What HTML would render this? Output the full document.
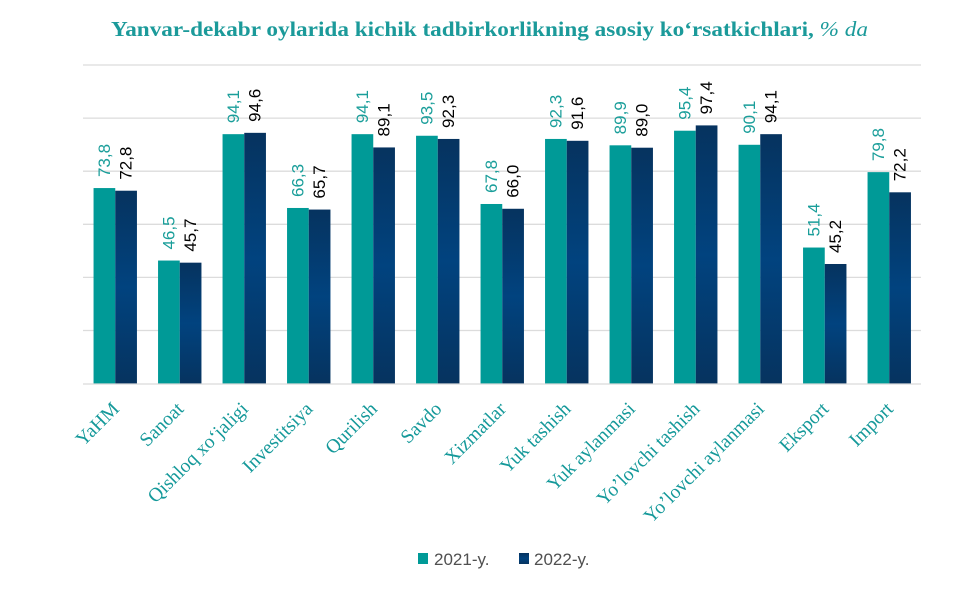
<!DOCTYPE html>
<html><head><meta charset="utf-8"><style>
html,body{margin:0;padding:0;background:#fff;}
svg{display:block;}
</style></head><body>
<svg width="963" height="607" viewBox="0 0 963 607" xmlns="http://www.w3.org/2000/svg">
<defs>
<linearGradient id="nv" x1="0" y1="0" x2="0" y2="1">
<stop offset="0" stop-color="#06335f"/>
<stop offset="0.5" stop-color="#01437f"/>
<stop offset="1" stop-color="#06335f"/>
</linearGradient>
</defs>
<rect width="963" height="607" fill="#fff"/>
<text x="489.5" y="36" text-anchor="middle" textLength="757" lengthAdjust="spacingAndGlyphs" font-family="Liberation Serif, serif" font-size="21" font-weight="bold" fill="#1b9a9a">Yanvar-dekabr oylarida kichik tadbirkorlikning asosiy ko‘rsatkichlari, <tspan font-style="italic" font-weight="normal">% da</tspan></text>
<g stroke="#dcdcdc" stroke-width="1.3">
<line x1="83" y1="65" x2="921" y2="65"/>
<line x1="83" y1="118.1" x2="921" y2="118.1"/>
<line x1="83" y1="171.2" x2="921" y2="171.2"/>
<line x1="83" y1="224.3" x2="921" y2="224.3"/>
<line x1="83" y1="277.4" x2="921" y2="277.4"/>
<line x1="83" y1="330.5" x2="921" y2="330.5"/>
</g>
<g id="bars"></g>
<line x1="83" y1="384" x2="921" y2="384" stroke="#d9d9d9" stroke-width="1.3"/>
<g id="lbls" font-family="Liberation Sans, sans-serif" font-size="17"></g>
<g id="xl" font-family="Liberation Serif, serif" font-size="19.5" fill="#15999a"></g>
<rect x="418" y="553" width="10" height="11" fill="#009a97"/>
<text x="434" y="565" font-family="Liberation Sans, sans-serif" font-size="17" fill="#505050">2021-y.</text>
<rect x="519" y="553" width="10" height="11" fill="url(#nv)"/>
<text x="534" y="565" font-family="Liberation Sans, sans-serif" font-size="17" fill="#505050">2022-y.</text>
<script>
(function(){
var a=[73.8,46.5,94.1,66.3,94.1,93.5,67.8,92.3,89.9,95.4,90.1,51.4,79.8];
var b=[72.8,45.7,94.6,65.7,89.1,92.3,66.0,91.6,89.0,97.4,94.1,45.2,72.2];
var n=["YaHM","Sanoat","Qishloq xo‘jaligi","Investitsiya","Qurilish","Savdo","Xizmatlar","Yuk tashish","Yuk aylanmasi","Yo’lovchi tashish","Yo’lovchi aylanmasi","Eksport","Import"];
var NS="http://www.w3.org/2000/svg";
var bars=document.getElementById("bars"),lb=document.getElementById("lbls"),xl=document.getElementById("xl");
function el(t,at,p,txt){var e=document.createElementNS(NS,t);for(var k in at)e.setAttribute(k,at[k]);if(txt!==undefined)e.textContent=txt;p.appendChild(e);return e;}
function f(v){return v.toFixed(1).replace(".",",");}
var s=53.1/20,base=384,w=21.7;
for(var i=0;i<13;i++){
 var c=83+64.5*(i+0.5);
 var ya=base-a[i]*s, yb=base-b[i]*s;
 el("rect",{x:c-w,y:ya,width:w,height:base-ya,fill:"#009a97"},bars);
 el("rect",{x:c,y:yb,width:w,height:base-yb,fill:"url(#nv)"},bars);
 var xa=c-w/2+5.5, xb=c+w/2+5.5;
 el("text",{x:0,y:0,transform:"translate("+xa+","+(ya-11)+") rotate(-90)",fill:"#1a9e9a"},lb,f(a[i]));
 el("text",{x:0,y:0,transform:"translate("+xb+","+(yb-11)+") rotate(-90)",fill:"#000"},lb,f(b[i]));
 el("text",{x:0,y:0,"text-anchor":"end",transform:"translate("+(c+5)+",410) rotate(-45)"},xl,n[i]);
}
})();
</script>
</svg>
</body></html>
